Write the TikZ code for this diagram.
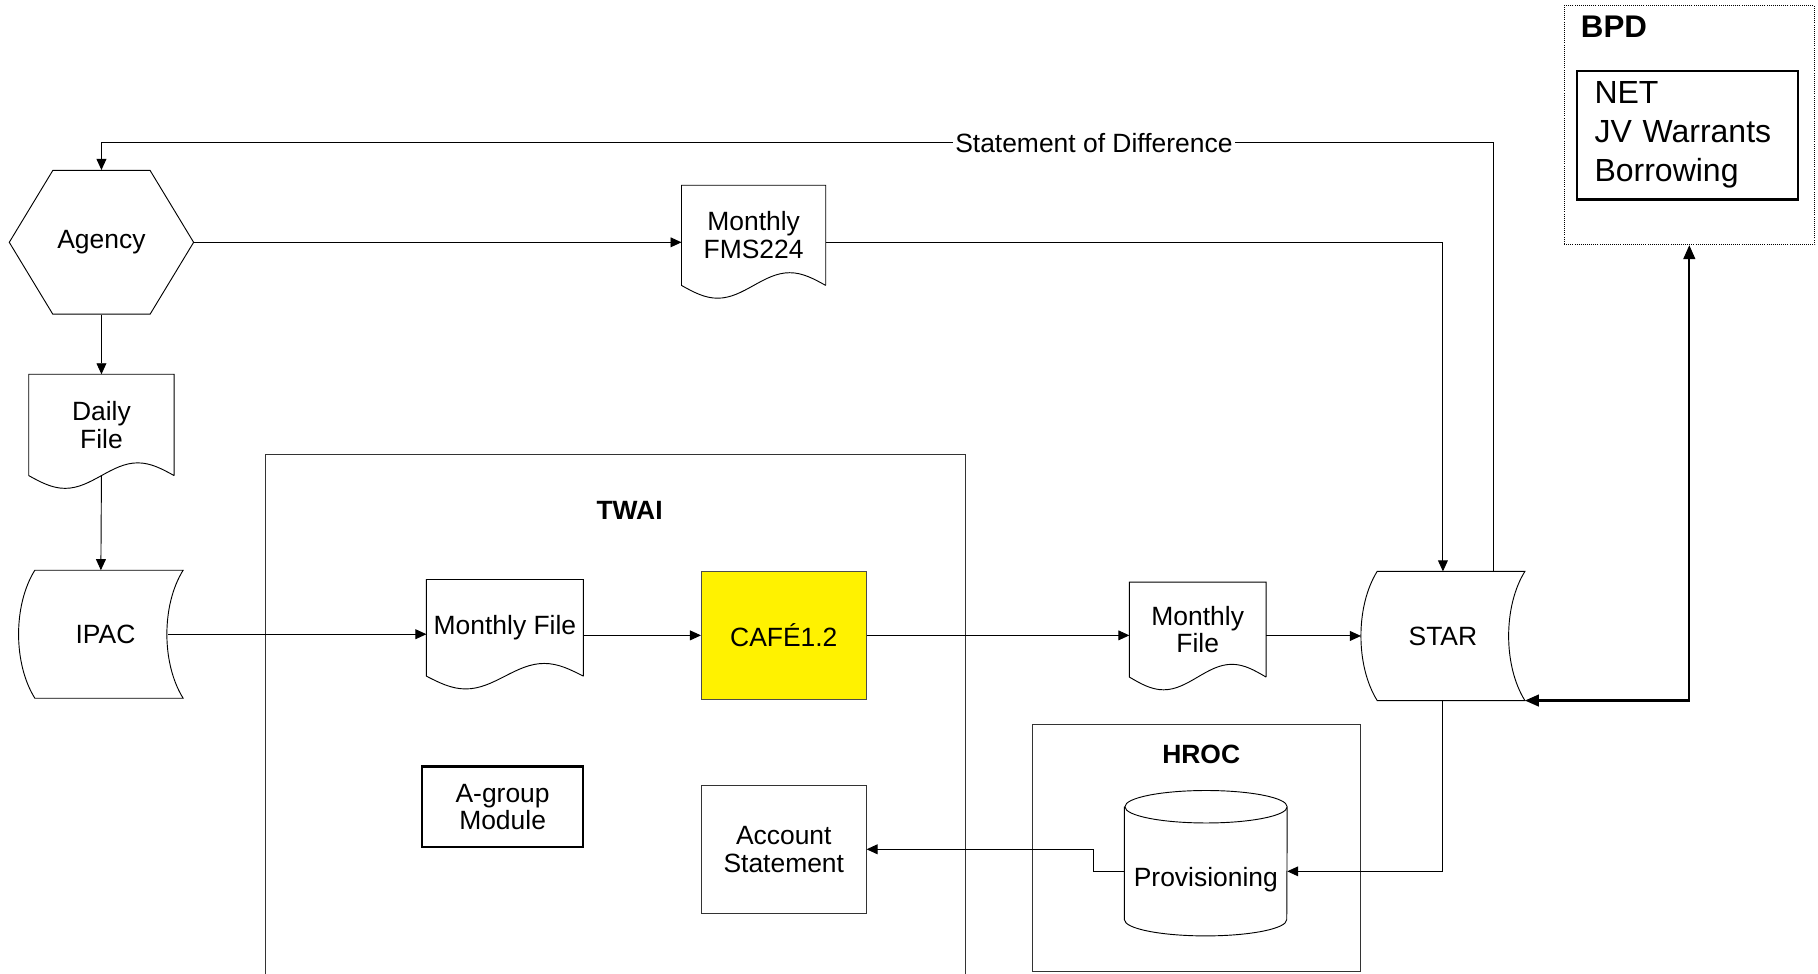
\documentclass[tikz,border=0pt]{standalone}
\usepackage{fontspec}
\setmainfont{Liberation Sans}
\usepackage{tikz}
\usetikzlibrary{shapes,arrows,arrows.meta,calc}

\tikzstyle{txt} = [font=\fontsize{22.8}{24}\selectfont, align=center, inner sep=2pt]
\tikzstyle{block} = [rectangle, draw, txt, line width=0.8pt]
\tikzstyle{line} = [draw, line width=0.8pt, -{Triangle[length=9.5pt,width=8.5pt]}]
\tikzstyle{frame} = [rectangle, draw=black!80, line width=0.8pt]
\tikzstyle{title} = [font=\fontsize{22.8}{24}\selectfont\bfseries]
\tikzstyle{hexa} = [signal, signal to=west and east, signal pointer angle=117.6, draw, txt, line width=0.8pt]
\tikzstyle{doc} = [rectangle, txt, append after command={\pgfextra{\draw[line width=0.8pt]
    (\tikzlastnode.south east) -- (\tikzlastnode.north east) -- (\tikzlastnode.north west) -- (\tikzlastnode.south west)
    sin ($(\tikzlastnode.south west)!.25!(\tikzlastnode.south east)+(0,-11)$)
    cos ($(\tikzlastnode.south west)!.5!(\tikzlastnode.south east)$)
    sin ($(\tikzlastnode.south west)!.75!(\tikzlastnode.south east)+(0,11)$)
    cos (\tikzlastnode.south east);}}]
\tikzstyle{stored} = [rectangle, txt, append after command={\pgfextra{\draw[line width=0.8pt]
    ($(\tikzlastnode.north west)+(14,0)$) -- (\tikzlastnode.north east)
    .. controls +(-18.7,-30) and +(-18.7,30) .. (\tikzlastnode.south east)
    -- ($(\tikzlastnode.south west)+(14,0)$)
    .. controls +(-18.7,30) and +(-18.7,-30) .. ($(\tikzlastnode.north west)+(14,0)$) -- cycle;}}]
\tikzstyle{drum} = [rectangle, txt, append after command={\pgfextra{\draw[line width=0.8pt]
    ($(\tikzlastnode.north west)+(0,14)$) -- ($(\tikzlastnode.south west)+(0,14)$)
    arc[start angle=180, end angle=360, x radius=70, y radius=14]
    -- ($(\tikzlastnode.north east)+(0,14)$)
    arc[start angle=0, end angle=180, x radius=70, y radius=14]
    arc[start angle=180, end angle=360, x radius=70, y radius=14];}}]

\begin{document}
\begin{tikzpicture}[x=1pt, y=1pt]
  \useasboundingbox (0,0) rectangle (1568,-840);

  % containers
  \node [frame, minimum width=604pt, minimum height=458pt] (twai) at (531,-621) {};
  \node [frame, minimum width=283pt, minimum height=213pt] (hroc) at (1032,-731.5) {};
  \node [frame, draw=black, densely dotted, minimum width=216pt, minimum height=206pt] (bpd) at (1457,-108) {};
  \node [title] (twaititle) at (543,-440) {TWAI};
  \node [title] (hroctitle) at (1036,-651) {HROC};
  \node [title, font=\fontsize{27}{30}\selectfont\bfseries, anchor=west] (bpdtitle) at (1360,-23) {BPD};
  \node [rectangle, draw, line width=2pt, text width=160pt, inner xsep=15.25pt, minimum height=111pt, align=left,
    font=\fontsize{27.6}{33.5}\selectfont] (bpdlist) at (1455.25,-116.5) {NET\\JV Warrants\\Borrowing};

  % flow
  \node [hexa, minimum width=159pt, minimum height=124pt] (agency) at (87.5,-209) {Agency};
  \node [doc, minimum width=124pt, minimum height=86pt] (fms) at (650,-203) {Monthly\\FMS224};
  \node [doc, minimum width=125pt, minimum height=87pt] (daily) at (87.5,-366.5) {Daily\\File};
  \node [stored, minimum width=141.5pt, minimum height=110pt] (ipac) at (87,-547) {\hspace{8pt}IPAC};
  \node [doc, minimum width=135pt, minimum height=83pt] (monfile) at (435.5,-541.5) {Monthly File};
  \node [block, draw=black!70, fill=yellow, minimum width=142pt, minimum height=110pt] (cafe) at (676,-548) {CAFÉ1.2};
  \node [doc, minimum width=117.5pt, minimum height=81.5pt] (monfile2) at (1033,-543) {Monthly\\File};
  \node [stored, minimum width=141pt, minimum height=111pt] (star) at (1244.5,-548.5) {STAR};
  \node [block, line width=2pt, minimum width=139pt, minimum height=69.6pt] (agroup) at (433.5,-696) {A-group\\Module};
  \node [block, draw=black!80, minimum width=142pt, minimum height=110.6pt] (acct) at (676,-732.5) {Account\\Statement};
  \node [drum, minimum width=140pt, minimum height=97pt] (prov) at (1040,-758.5) {Provisioning};
  \coordinate (sod) at (1288,-123);

  \path [line] (agency.south) -- (daily.north);
  \path [line] (daily.south) -- (ipac.north);
  \path [line] (agency.east) -- (agency.east -| fms.west);
  \path [line] (agency.east -| fms.east) -| (star.north);
  \path [line] ($(ipac.east)+(-13,0)$) -- (ipac.east -| monfile.west);
  \path [line] (cafe.west -| monfile.east) -- (cafe.west);
  \path [line] (cafe.east) -- (cafe.east -| monfile2.west);
  \path [line] (star.west -| monfile2.east) -- (star.west);
  \path [line] (star.north -| sod) -- (sod) -- node [txt, fill=white, pos=0.287] (sodlabel) {Statement of Difference} (sod -| agency.north) -- (agency.north);
  \path [line] (star.south) |- ([yshift=7pt]prov.east);
  \path [line] ([yshift=7pt]prov.west) -- ++(-27,0) |- (acct.east);
  \path [line, line width=2pt, {Triangle[length=12pt,width=10pt]}-{Triangle[length=12pt,width=10pt]}] (star.south east) -| (bpd.south);
\end{tikzpicture}
\end{document}
